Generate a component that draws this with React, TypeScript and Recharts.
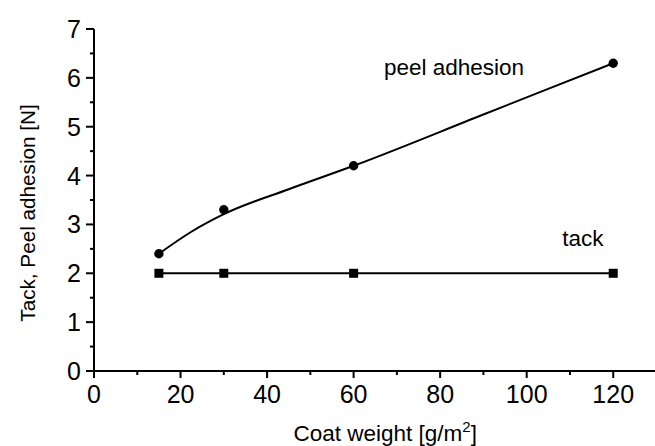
import React from "react";
import { ComposedChart, Line, Scatter, XAxis, YAxis } from "recharts";

const coatWeight = [15, 30, 60, 120];
const peelAdhesion = [2.4, 3.3, 4.2, 6.3];
const tackForce = [2, 2, 2, 2];

// fitted curve through the peel points
const fitWeight = [15, 22.5, 30, 45, 60, 90, 120];
const fitPeel = [2.4, 2.85, 3.21, 3.72, 4.2, 5.25, 6.3];

const xTicks = [0, 10, 20, 30, 40, 50, 60, 70, 80, 90, 100, 110, 120];
const yTicks = [0, 0.5, 1, 1.5, 2, 2.5, 3, 3.5, 4, 4.5, 5, 5.5, 6, 6.5, 7];

const noteX = [67, 108.2];
const noteY = [6.06, 2.56];
const noteText = ["peel adhesion", "tack"];

const FONT = "'Liberation Sans', Arial, sans-serif";

const peelData = coatWeight.map((x, i) => ({ x, y: peelAdhesion[i] }));
const tackData = coatWeight.map((x, i) => ({ x, y: tackForce[i] }));
const fitData = fitWeight.map((x, i) => ({ x, y: fitPeel[i] }));
const notes = noteX.map((x, i) => ({ x, y: noteY[i], text: noteText[i] }));

const XTick = ({ x, y, payload }: any) => {
  const major = payload.value % 20 === 0;
  return (
    <g>
      <line x1={x} x2={x} y1={y} y2={y + (major ? 7 : 4)} stroke="#000" strokeWidth={2} />
      {major && (
        <text x={x} y={y + 32} textAnchor="middle" fontSize={25} fontFamily={FONT} fill="#000">
          {payload.value}
        </text>
      )}
    </g>
  );
};

const YTick = ({ x, y, payload }: any) => {
  const major = payload.value % 1 === 0;
  return (
    <g>
      <line x1={x - (major ? 8 : 4)} x2={x} y1={y} y2={y} stroke="#000" strokeWidth={2} />
      {major && (
        <text x={x - 13} y={y + 9} textAnchor="end" fontSize={25} fontFamily={FONT} fill="#000">
          {payload.value}
        </text>
      )}
    </g>
  );
};

const Square = ({ cx, cy }: any) => (
  <rect x={cx - 4.5} y={cy - 4.5} width={9} height={9} fill="#000" />
);

const Note = ({ cx, cy, payload }: any) => (
  <text x={cx} y={cy} fontSize={22.5} fontFamily={FONT} fill="#000">
    {payload.text}
  </text>
);

const App = () => {
  return (
    <div style={{ position: "absolute", left: 0, top: 0, background: "#fff" }}>
      <ComposedChart
        width={660}
        height={446}
        margin={{ top: 29, right: 3.5, bottom: 0, left: 0 }}
      >
        <XAxis
          type="number"
          dataKey="x"
          domain={[0, 130]}
          ticks={xTicks}
          interval={0}
          tickSize={0}
          tickMargin={0}
          tickLine={false}
          tick={<XTick />}
          height={75}
          axisLine={{ stroke: "#000", strokeWidth: 2 }}
          allowDataOverflow
          label={({ viewBox }: any) => (
            <text
              x={viewBox.x + viewBox.width / 2 + 10}
              y={viewBox.y + 70}
              textAnchor="middle"
              fontSize={22.5}
              fontFamily={FONT}
              fill="#000"
            >
              <tspan>Coat weight [g/m</tspan>
              <tspan dy={-9} fontSize={15}>2</tspan>
              <tspan dy={9}>]</tspan>
            </text>
          )}
        />
        <YAxis
          type="number"
          dataKey="y"
          domain={[0, 7]}
          ticks={yTicks}
          interval={0}
          tickSize={0}
          tickMargin={0}
          tickLine={false}
          tick={<YTick />}
          width={94}
          axisLine={{ stroke: "#000", strokeWidth: 2 }}
          allowDataOverflow
          label={({ viewBox }: any) => (
            <text
              transform={`translate(35,${viewBox.y + viewBox.height / 2 + 13}) rotate(-90)`}
              textAnchor="middle"
              fontSize={20.7}
              fontFamily={FONT}
              fill="#000"
            >
              Tack, Peel adhesion [N]
            </text>
          )}
        />
        <Line
          data={fitData}
          dataKey="y"
          type="monotone"
          stroke="#000"
          strokeWidth={2}
          dot={false}
          isAnimationActive={false}
        />
        <Line
          data={tackData}
          dataKey="y"
          type="linear"
          stroke="#000"
          strokeWidth={2}
          dot={<Square />}
          isAnimationActive={false}
        />
        <Scatter
          data={peelData}
          dataKey="y"
          fill="#000"
          shape={(p: any) => <circle cx={p.cx} cy={p.cy} r={4.7} fill="#000" />}
          isAnimationActive={false}
        />
        <Scatter data={notes} dataKey="y" shape={<Note />} isAnimationActive={false} />
      </ComposedChart>
    </div>
  );
};

export default App;
